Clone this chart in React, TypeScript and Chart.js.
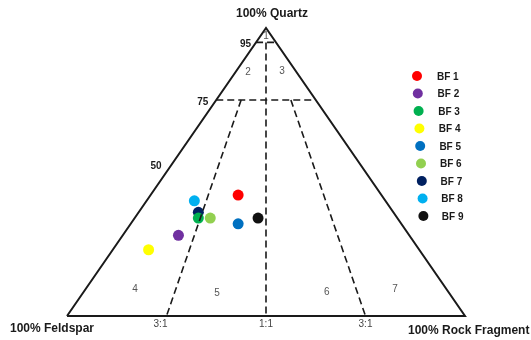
import React, { useEffect, useRef } from "react";
import { Chart, registerables } from "chart.js";

Chart.register(...registerables);

const categories = ["BF 1", "BF 2", "BF 3", "BF 4", "BF 5", "BF 6", "BF 7", "BF 8", "BF 9"];
const quartz = [42, 28, 34, 23, 32, 34, 36, 40, 34];
const feldspar = [36, 58, 50, 68, 41, 47, 49, 48, 35];
const rockFragment = [22, 14, 16, 9, 27, 19, 15, 12, 31];
const colors = ["#FF0000", "#7030A0", "#00B050", "#FFFF00", "#0070C0", "#92D050", "#002060", "#00B0F0", "#111111"];

const quartzLines = [95, 75];
const quartzTickLabels = ["95", "75", "50"];
const quartzTickValues = [95, 75, 50];
const ratioLabels = ["3:1", "1:1", "3:1"];
const ratioValues = [0.25, 0.5, 0.75]; // L / (F + L)
const regionLabels = ["1", "2", "3", "4", "5", "6", "7"];
const cornerLabels = ["100% Quartz", "100% Feldspar", "100% Rock Fragment"];

// ternary (Q, F, L) -> cartesian
function toXY(q: number, f: number, l: number) {
  const s = q + f + l;
  const Q = (q / s) * 100;
  const L = (l / s) * 100;
  return { x: L + Q / 2, y: Q };
}

const triangle = [toXY(0, 100, 0), toXY(0, 0, 100), toXY(100, 0, 0), toXY(0, 100, 0)];

function qLine(q: number) {
  return [toXY(q, 100 - q, 0), toXY(q, 0, 100 - q)];
}

function ratioLine(r: number, qTop: number) {
  return [toXY(qTop, (100 - qTop) * (1 - r), (100 - qTop) * r), toXY(0, 100 * (1 - r), 100 * r)];
}

// region label anchor points in ternary terms
const regionPoints = [
  toXY(97, 1.5, 1.5),
  toXY(84.7, 12.15, 3.15),
  toXY(85, 3.5, 11.5),
  toXY(9.4, 78.2, 12.4),
  toXY(8, 58.3, 33.7),
  toXY(8.3, 30.55, 61.15),
  toXY(9.4, 12.9, 77.7),
];

const textPlugin = {
  id: "ternaryText",
  afterDatasetsDraw(chart: any) {
    const { ctx, scales } = chart;
    const xs = scales.x;
    const ys = scales.y;
    const px = (v: number) => xs.getPixelForValue(v);
    const py = (v: number) => ys.getPixelForValue(v);
    ctx.save();
    ctx.textBaseline = "middle";

    // corner labels
    ctx.fillStyle = "#1a1a1a";
    ctx.font = "bold 12px 'Liberation Sans', Arial, sans-serif";
    ctx.textAlign = "center";
    const apex = toXY(100, 0, 0);
    ctx.fillText(cornerLabels[0], px(apex.x) + 6, py(apex.y) - 14);
    ctx.textAlign = "left";
    ctx.fillText(cornerLabels[1], 10, py(0) + 13);
    ctx.fillText(cornerLabels[2], 408, py(0) + 15);

    // quartz tick labels on left edge
    ctx.font = "bold 10px 'Liberation Sans', Arial, sans-serif";
    ctx.textAlign = "right";
    const offs = [[-5, 2], [-8, 2], [-5, -6]];
    quartzTickValues.forEach((q, i) => {
      const p = toXY(q, 100 - q, 0);
      ctx.fillText(quartzTickLabels[i], px(p.x) + offs[i][0], py(p.y) + offs[i][1]);
    });

    // ratio labels under the base
    ctx.font = "10px 'Liberation Sans', Arial, sans-serif";
    ctx.fillStyle = "#444";
    ctx.textAlign = "center";
    ratioValues.forEach((r, i) => {
      const p = toXY(0, 100 * (1 - r), 100 * r);
      ctx.fillText(ratioLabels[i], px(p.x) - (i === 0 ? 6 : 0), py(0) + 8);
    });

    // region numbers
    ctx.fillStyle = "#555";
    regionLabels.forEach((t, i) => {
      const p = regionPoints[i];
      ctx.fillText(t, px(p.x), py(p.y));
    });

    // legend
    ctx.textAlign = "left";
    ctx.font = "bold 10px 'Liberation Sans', Arial, sans-serif";
    categories.forEach((c, i) => {
      const cy = 76 + i * 17.5;
      const cx = 417 + i * 0.8;
      ctx.beginPath();
      ctx.fillStyle = colors[i];
      ctx.arc(cx, cy, 5, 0, Math.PI * 2);
      ctx.fill();
      ctx.fillStyle = "#1a1a1a";
      ctx.fillText(c, 437 + i * 0.6, cy + 1);
    });
    ctx.restore();
  },
};

export default function App() {
  const ref = useRef<HTMLCanvasElement>(null);
  useEffect(() => {
    document.body.style.margin = "0";
    const canvas = ref.current!;
    const dashed = { borderColor: "#1a1a1a", borderWidth: 1.6, borderDash: [7, 4], pointRadius: 0, showLine: true, fill: false, clip: false as any };
    const datasets: any[] = [
      { data: triangle, borderColor: "#1a1a1a", borderWidth: 2, pointRadius: 0, showLine: true, fill: false, clip: false },
      ...quartzLines.map((q) => ({ ...dashed, data: qLine(q) })),
      { ...dashed, data: ratioLine(0.5, 95) },
      { ...dashed, data: ratioLine(0.25, 75) },
      { ...dashed, data: ratioLine(0.75, 75) },
      ...categories.map((c, i) => ({
        label: c,
        data: [toXY(quartz[i], feldspar[i], rockFragment[i])],
        backgroundColor: colors[i],
        borderColor: colors[i],
        pointRadius: 5.5,
        borderWidth: 0,
        showLine: false,
        clip: false,
      })),
    ];
    const chart = new Chart(canvas, {
      type: "scatter",
      data: { datasets },
      options: {
        animation: false,
        responsive: false,
        layout: { padding: { left: 67, right: 66, top: 28, bottom: 24 } },
        plugins: { legend: { display: false }, tooltip: { enabled: false } },
        scales: {
          x: { type: "linear", min: 0, max: 100, display: false },
          y: { type: "linear", min: 0, max: 100, display: false },
        },
      },
      plugins: [textPlugin],
    });
    return () => chart.destroy();
  }, []);
  return <canvas ref={ref} width={531} height={340} style={{ display: "block" }} />;
}
